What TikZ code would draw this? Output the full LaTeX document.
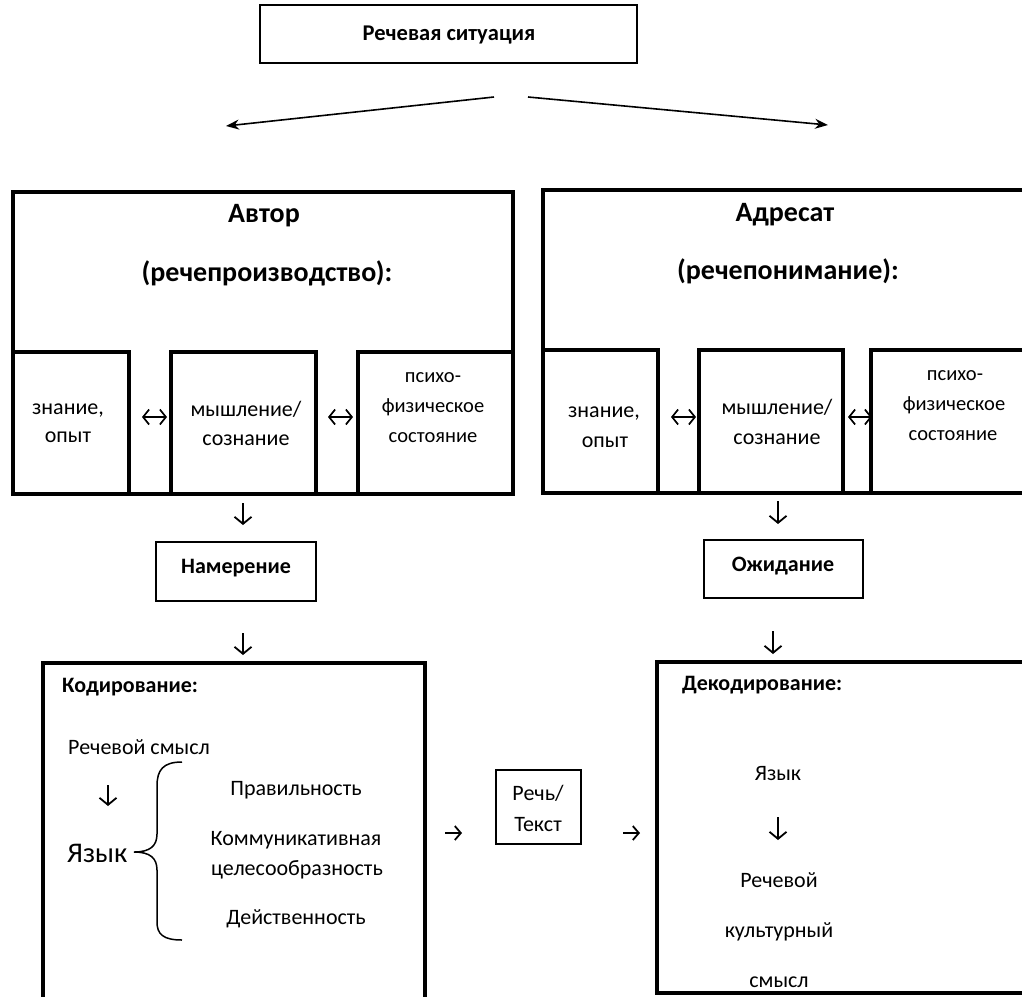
\documentclass[tikz,border=0pt]{standalone}
\usepackage{fontspec}
\setmainfont{Carlito}
\usetikzlibrary{arrows.meta}
\tikzset{
  bx/.style={draw, line width=3.4pt, rectangle},
  thinbx/.style={draw, line width=2.8pt, rectangle},
  txt/.style={inner sep=0pt, anchor=base, yshift=-7pt, font=\fontsize{22}{26}\selectfont},
  ltxt/.style={txt, anchor=base west},
  smtxt/.style={txt, font=\fontsize{20.5}{24}\selectfont},
  btxt/.style={txt, font=\fontsize{22}{26}\selectfont\bfseries},
  hd/.style={txt, yshift=-2pt, font=\fontsize{28}{32}\selectfont\bfseries},
  big/.style={txt, anchor=base west, yshift=-2pt, font=\fontsize{28.5}{32}\selectfont},
  longarr/.style={line width=1.6pt, -{Stealth[length=13pt,width=10pt]}},
  sarr/.style={line width=1.8pt, -{Straight Barb[length=7pt,width=17pt]}},
  harr/.style={line width=1.8pt, -{Straight Barb[length=6pt,width=14pt]}},
  darr/.style={line width=1.7pt, {Straight Barb[length=6pt,width=15pt]}-{Straight Barb[length=6pt,width=15pt]}},
  brace/.style={line width=1.5pt}
}
\begin{document}
\begin{tikzpicture}[x=1pt,y=-1pt]
\useasboundingbox (0,0) rectangle (1022,996);
% top box
\draw[thinbx] (260,5) rectangle (637,63);
\node[btxt, font=\fontsize{22.5}{26}\selectfont\bfseries] (top) at (449,33) {Речевая ситуация};
% long arrows
\coordinate (ls) at (494,97); \coordinate (le) at (226,126);
\coordinate (rs) at (528,97); \coordinate (re) at (828,125);
\draw[longarr] (ls) -- (le);
\draw[longarr] (rs) -- (re);

% Author box
\draw[bx] (13,192) rectangle (513,494);
\node[hd] (aut) at (264,213) {Автор};
\node[hd] (aut2) at (267,272) {(речепроизводство):};
\draw[bx] (13,352) rectangle (129,494);
\draw[bx] (171,352) rectangle (316,494);
\draw[bx] (358,352) rectangle (513,494);
\node[txt] (zn1) at (68,407) {знание,};
\node[txt] (op1) at (68,435) {опыт};
\node[txt] (my1) at (246,409) {мышление/};
\node[txt] (so1) at (246,438) {сознание};
\node[smtxt] (ps1) at (433,375) {психо-};
\node[smtxt] (fi1) at (433,405) {физическое};
\node[smtxt] (st1) at (433,435) {состояние};
\coordinate (d1a) at (142,417); \coordinate (d1b) at (167,417);
\coordinate (d2a) at (328,417); \coordinate (d2b) at (353,417);
\draw[darr] (d1a) -- (d1b);
\draw[darr] (d2a) -- (d2b);

% Addressee box
\draw[bx] (543,190) rectangle (1032,493);
\node[hd] (adr) at (785,212) {Адресат};
\node[hd] (adr2) at (788,270) {(речепонимание):};
\draw[bx] (543,350) rectangle (658,493);
\draw[bx] (699,350) rectangle (843,493);
\draw[bx] (871,350) rectangle (1036,493);
\node[txt] (zn2) at (604,410) {знание,};
\node[txt] (op2) at (605,440) {опыт};
\node[txt] (my2) at (777,407) {мышление/};
\node[txt] (so2) at (777,437) {сознание};
\node[smtxt] (ps2) at (955,373) {психо-};
\node[smtxt] (fi2) at (954,403) {физическое};
\node[smtxt] (st2) at (953,433) {состояние};
\coordinate (d3a) at (671,417); \coordinate (d3b) at (696,417);
\coordinate (d4a) at (848,417); \coordinate (d4b) at (872,417);
\draw[darr] (d3a) -- (d3b);
\draw[darr] (d4a) -- (d4b);

% intention / expectation
\coordinate (v1a) at (243,503); \coordinate (v1b) at (243,525);
\draw[sarr] (v1a) -- (v1b);
\draw[thinbx] (156,542) rectangle (316,601);
\node[btxt] (nam) at (236,566) {Намерение};
\coordinate (v2a) at (243,633); \coordinate (v2b) at (243,655);
\draw[sarr] (v2a) -- (v2b);

\coordinate (v3a) at (778,501); \coordinate (v3b) at (778,524);
\draw[sarr] (v3a) -- (v3b);
\draw[thinbx] (704,540) rectangle (863,598);
\node[btxt] (oj) at (783,564) {Ожидание};
\coordinate (v4a) at (773,631); \coordinate (v4b) at (773,654);
\draw[sarr] (v4a) -- (v4b);

% Coding box
\draw[bx] (43,663) rectangle (425,1005);
\node[btxt, anchor=base west] (kod) at (62,685) {Кодирование:};
\node[ltxt] (rs1) at (68,747) {Речевой смысл};
\coordinate (v5a) at (108,785); \coordinate (v5b) at (108,806);
\draw[sarr] (v5a) -- (v5b);
\node[big] (yaz1) at (67,853) {Язык};
\draw[brace] (182,762) .. controls (163,762) and (157,770) .. (157,786) -- (157,834)
  .. controls (157,846) and (150,852) .. (134,852)
  .. controls (150,852) and (157,858) .. (157,870) -- (157,922)
  .. controls (157,934) and (163,940) .. (182,940);
\node[txt] (pr) at (296,788) {Правильность};
\node[txt] (ko) at (296,838) {Коммуникативная};
\node[txt] (ce) at (297,868) {целесообразность};
\node[txt] (de) at (296,917) {Действенность};

% speech / text
\coordinate (h1a) at (445,833); \coordinate (h1b) at (462,833);
\draw[harr] (h1a) -- (h1b);
\draw[thinbx] (496,770) rectangle (581,844);
\node[txt] (rc) at (538,793) {Речь/};
\node[txt] (tk) at (538,824) {Текст};
\coordinate (h2a) at (623,833); \coordinate (h2b) at (640,833);
\draw[harr] (h2a) -- (h2b);

% Decoding box
\draw[bx] (657,662) rectangle (1036,993);
\node[btxt, anchor=base west] (dek) at (682,683) {Декодирование:};
\node[txt] (yaz2) at (778,773) {Язык};
\coordinate (v6a) at (778,817); \coordinate (v6b) at (778,840);
\draw[sarr] (v6a) -- (v6b);
\node[txt] (rv) at (779,880) {Речевой};
\node[txt] (ku) at (779,930) {культурный};
\node[txt] (sm) at (779,980) {смысл};
\end{tikzpicture}
\end{document}
